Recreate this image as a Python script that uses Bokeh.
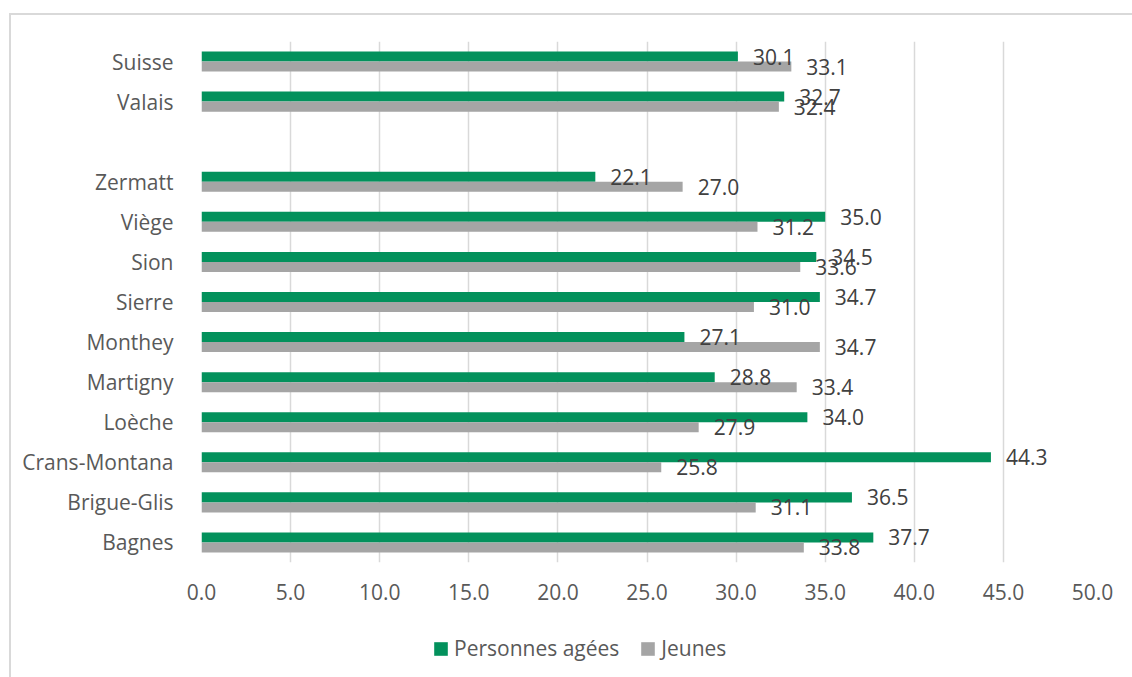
from bokeh.plotting import figure
from bokeh.layouts import column
from bokeh.models import ColumnDataSource, FactorRange, Legend, LegendItem, NumeralTickFormatter, FixedTicker, Range1d
from bokeh.transform import dodge
from bokeh.core.properties import value
from bokeh.embed import file_html
from bokeh.resources import INLINE

categories = ["Bagnes", "Brigue-Glis", "Crans-Montana", "Loèche", "Martigny", "Monthey",
              "Sierre", "Sion", "Viège", "Zermatt", " ", "Valais", "Suisse"]
personnes_agees = [37.7, 36.5, 44.3, 34.0, 28.8, 27.1, 34.7, 34.5, 35.0, 22.1, None, 32.7, 30.1]
jeunes = [33.8, 31.1, 25.8, 27.9, 33.4, 34.7, 31.0, 33.6, 31.2, 27.0, None, 32.4, 33.1]
series_names = ["Personnes agées", "Jeunes"]
x_ticks = [0, 5, 10, 15, 20, 25, 30, 35, 40, 45, 50]

GREEN = "#03915C"
GRAY = "#A5A5A5"
FONT = "Open Sans"

src = ColumnDataSource(dict(
    cat=categories,
    old=[v if v is not None else float("nan") for v in personnes_agees],
    young=[v if v is not None else float("nan") for v in jeunes],
    old_lbl=["" if v is None else f"{v:.1f}" for v in personnes_agees],
    young_lbl=["" if v is None else f"{v:.1f}" for v in jeunes],
))

p = figure(width=1123, height=600, y_range=FactorRange(*categories, range_padding=0),
           x_range=(0, 50), output_backend="svg", toolbar_location=None,
           min_border_left=190, min_border_right=42, min_border_top=26, min_border_bottom=53)
p.outline_line_color = None

p.hbar(y=dodge("cat", 0.125, range=p.y_range), right="old", left=0, height=0.25,
       fill_color=GREEN, line_color=None, source=src)
p.hbar(y=dodge("cat", -0.125, range=p.y_range), right="young", left=0, height=0.25,
       fill_color=GRAY, line_color=None, source=src)

p.text(x="old", y=dodge("cat", 0.125, range=p.y_range), text="old_lbl", source=src,
       x_offset=15, text_baseline="middle", text_font=value(FONT), text_font_size="21px",
       text_color="#404040")
p.text(x="young", y=dodge("cat", -0.125, range=p.y_range), text="young_lbl", source=src,
       x_offset=15, text_baseline="middle", text_font=value(FONT), text_font_size="21px",
       text_color="#404040")

p.xaxis.ticker = FixedTicker(ticks=x_ticks)
p.xaxis.formatter = NumeralTickFormatter(format="0.0")
for ax in (p.xaxis, p.yaxis):
    ax.axis_line_color = None
    ax.major_tick_line_color = None
    ax.minor_tick_line_color = None
    ax.major_label_text_font = FONT
    ax.major_label_text_font_size = "21px"
    ax.major_label_text_color = "#595959"
p.xaxis.major_label_standoff = 15
p.yaxis.major_label_standoff = 22

p.xgrid.grid_line_color = "#d9d9d9"
p.xgrid.grid_line_width = 1.5
p.ygrid.grid_line_color = None

# legend strip (proxy renderers kept outside the visible range)
lg = figure(width=1123, height=62, x_range=Range1d(0, 1), y_range=Range1d(0, 1),
            output_backend="svg", toolbar_location=None, x_axis_type=None, y_axis_type=None,
            min_border=0)
lg.outline_line_color = None
lg.grid.visible = False
proxy = ColumnDataSource(dict(l=[5], r=[6], b=[5], t=[6]))
r1 = lg.quad(left="l", right="r", top="t", bottom="b", source=proxy, fill_color=GREEN, line_color=None)
r2 = lg.quad(left="l", right="r", top="t", bottom="b", source=proxy, fill_color=GRAY, line_color=None)
legend = Legend(items=[LegendItem(label=series_names[0], renderers=[r1]),
                       LegendItem(label=series_names[1], renderers=[r2])],
                orientation="horizontal", location=(231, 15),
                glyph_width=17, glyph_height=17, label_standoff=5, spacing=20,
                padding=0, margin=0, label_height=20,
                label_text_font=FONT, label_text_font_size="21px", label_text_color="#595959",
                border_line_color=None, background_fill_alpha=0)
lg.add_layout(legend, "center")

layout = column(p, lg, spacing=0)
layout.margin = (13, 0, 0, 9)
layout.styles = {"border-top": "2px solid #d9d9d9", "border-left": "2px solid #d9d9d9"}

open("out.html", "w").write(file_html(layout, INLINE))
